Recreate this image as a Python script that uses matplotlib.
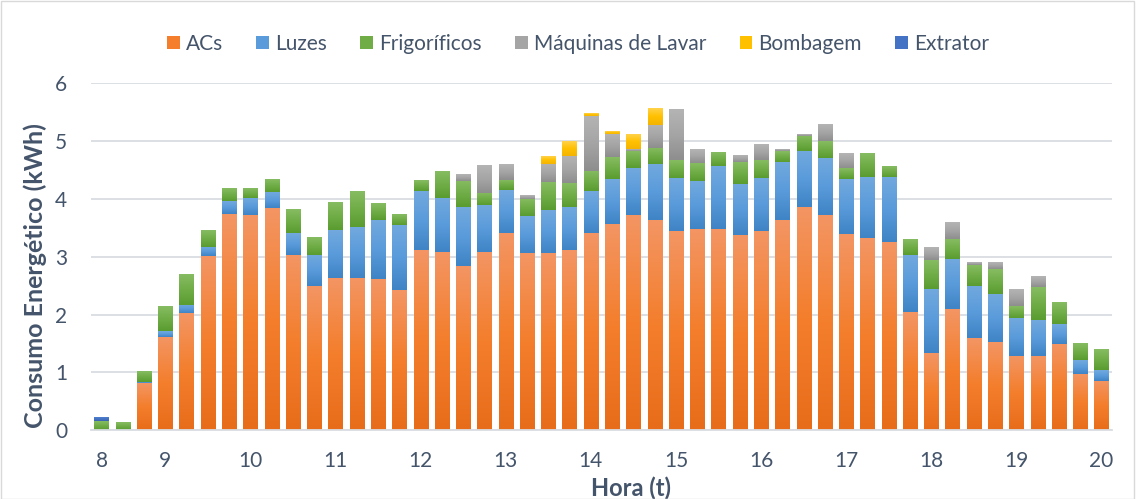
import numpy as np
import matplotlib
matplotlib.use("Agg")
import matplotlib.pyplot as plt
from matplotlib.colors import LinearSegmentedColormap
from matplotlib.patches import Patch, Rectangle

plt.rcParams['font.family'] = ['Lato', 'DejaVu Sans']

# consumption per 15 minute slot, 8:00 .. 19:45 (kWh)
acs = [0, 0, 0.81, 1.61, 2.02, 3.01, 3.74, 3.72, 3.85, 3.03,
       2.49, 2.63, 2.63, 2.61, 2.42, 3.11, 3.08, 2.84, 3.08, 3.41,
       3.06, 3.06, 3.11, 3.41, 3.57, 3.72, 3.63, 3.44, 3.48, 3.48,
       3.37, 3.44, 3.63, 3.86, 3.72, 3.39, 3.32, 3.25, 2.04, 1.33,
       2.09, 1.59, 1.52, 1.29, 1.28, 1.49, 0.97, 0.85]
luzes = [0, 0, 0.03, 0.10, 0.14, 0.16, 0.22, 0.30, 0.27, 0.38,
         0.54, 0.83, 0.88, 1.02, 1.13, 1.02, 0.94, 1.02, 0.81, 0.74,
         0.64, 0.75, 0.75, 0.72, 0.77, 0.81, 0.97, 0.92, 0.83, 1.09,
         0.89, 0.92, 1.01, 0.97, 0.99, 0.95, 1.06, 1.13, 0.99, 1.11,
         0.87, 0.90, 0.83, 0.65, 0.62, 0.34, 0.24, 0.19]
frigorificos = [0.15, 0.13, 0.19, 0.43, 0.52, 0.29, 0.21, 0.17, 0.21, 0.41,
                0.31, 0.47, 0.62, 0.28, 0.19, 0.18, 0.46, 0.45, 0.21, 0.18,
                0.30, 0.48, 0.41, 0.35, 0.38, 0.30, 0.28, 0.31, 0.31, 0.24,
                0.38, 0.31, 0.19, 0.26, 0.29, 0.19, 0.40, 0.19, 0.26, 0.50,
                0.34, 0.36, 0.43, 0.20, 0.57, 0.38, 0.28, 0.36]
maquinas = [0, 0, 0, 0, 0, 0, 0, 0, 0, 0,
            0, 0, 0, 0, 0, 0, 0, 0.12, 0.47, 0.27,
            0.06, 0.32, 0.47, 0.96, 0.40, 0.03, 0.40, 0.87, 0.23, 0,
            0.12, 0.26, 0.03, 0.03, 0.28, 0.25, 0, 0, 0, 0.21,
            0.28, 0.05, 0.11, 0.28, 0.18, 0, 0, 0]
bombagem = [0] * 21 + [0.13, 0.25, 0.05, 0.04, 0.25, 0.29] + [0] * 21
extrator = [0.06] + [0] * 47

series = ["ACs", "Luzes", "Frigoríficos", "Máquinas de Lavar", "Bombagem", "Extrator"]
tick_pos = [0, 3, 7, 11, 15, 19, 23, 27, 31, 35, 39, 43, 47]
tick_lbl = [str(h) for h in range(8, 21)]

# (top, middle, bottom) gradient colours per series
grads = [("#F39563", "#F47E2C", "#E86D1B"),
         ("#72A9DE", "#5A9BDB", "#3F84C5"),
         ("#86BC62", "#70AD47", "#5A9C30"),
         ("#B4B4B4", "#A5A5A5", "#8E8E8E"),
         ("#FFD24A", "#FFC000", "#F5B400"),
         ("#4F7FD0", "#4472C4", "#3A63AF")]
solid = [g[1] for g in grads]

txt = "#44546A"

fig = plt.figure(figsize=(11.36, 4.99), dpi=100)
ax = fig.add_axes([0.080, 0.138, 0.899, 0.695])

data = [acs, luzes, frigorificos, maquinas, bombagem, extrator]
x = np.arange(len(acs))
bottom = np.zeros(len(acs))
grad = np.linspace(1, 0, 64).reshape(-1, 1)
for name, vals, g in zip(series, data, grads):
    vals = np.array(vals)
    bars = ax.bar(x, vals, 0.67, bottom=bottom, color='none', linewidth=0, zorder=2)
    cmap = LinearSegmentedColormap.from_list(name, [g[2], g[1], g[0]])
    for b in bars:
        if b.get_height() <= 0:
            continue
        x0, y0 = b.get_x(), b.get_y()
        ax.imshow(grad, cmap=cmap, vmin=0, vmax=1, aspect='auto', zorder=2,
                  extent=[x0, x0 + b.get_width(), y0, y0 + b.get_height()],
                  interpolation='bilinear')
    bottom += vals

ax.set_xlim(-0.5, len(acs) - 0.5)
ax.set_ylim(0, 6)
ax.set_yticks(range(0, 7))
ax.set_xticks(tick_pos)
ax.set_xticklabels(tick_lbl)
ax.yaxis.grid(True, color="#D9DDE3", linewidth=1.3, zorder=0)
ax.set_axisbelow(True)
for s in ["top", "right", "left"]:
    ax.spines[s].set_visible(False)
ax.spines["bottom"].set_color("#D9DDE3")
ax.spines["bottom"].set_linewidth(1.3)
ax.tick_params(length=0, labelsize=15, colors=txt)
ax.tick_params(axis='x', pad=15)
ax.tick_params(axis='y', pad=17)

ax.set_ylabel("Consumo Energético (kWh)", fontsize=18, fontweight='bold', color=txt)
ax.yaxis.set_label_coords(-0.043, 0.447)
ax.set_xlabel("Hora (t)", fontsize=17, fontweight='bold', color=txt)
ax.xaxis.set_label_coords(0.529, -0.135)

handles = [Patch(facecolor=c, edgecolor='none') for c in solid]
ax.legend(handles, series, loc='center', bbox_to_anchor=(0.477, 1.114), ncol=6,
          frameon=False, fontsize=15, labelcolor=txt, handlelength=0.6, handleheight=0.6,
          handletextpad=0.3, columnspacing=1.6)

fig.add_artist(Rectangle((0.0005, 0.001), 0.998, 0.997, transform=fig.transFigure,
                         fill=False, edgecolor="#D9D9D9", linewidth=1))

fig.savefig("out.png", dpi=100)
